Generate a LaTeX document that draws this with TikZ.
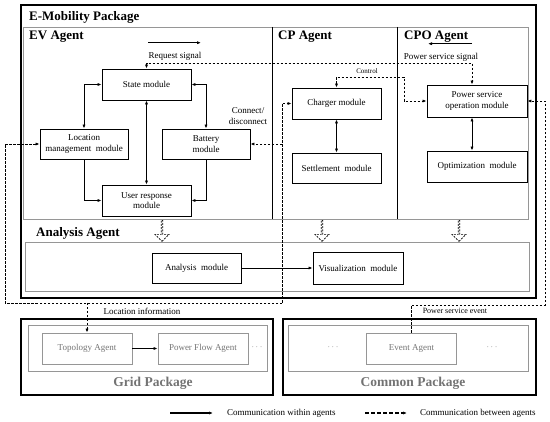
\documentclass[tikz,border=0pt]{standalone}
\usepackage{fontspec}
\setmainfont{Liberation Serif}
\usepackage{xcolor}
\usetikzlibrary{arrows.meta, positioning, shapes.arrows}
\definecolor{framegray}{RGB}{150,150,150}
\definecolor{textgray}{RGB}{115,115,115}

\begin{document}
\begin{tikzpicture}[x=1pt, y=-1pt,
    module/.style={draw, line width=0.9pt, minimum width=#1, minimum height=31pt,
                   align=center, inner sep=1pt, font=\fontsize{9}{10.5}\selectfont},
    module/.default=89pt,
    gridmod/.style={module=90pt, draw=framegray, text=textgray},
    title/.style={anchor=west, inner sep=0pt, font=\fontsize{13}{15}\selectfont\bfseries},
    pkgtitle/.style={inner sep=0pt, text=textgray, font=\fontsize{13.5}{15}\selectfont\bfseries},
    lbl/.style={inner sep=0pt, align=center, font=\fontsize{9}{10.5}\selectfont},
    tip/.style={-{Latex[length=4pt,width=3.2pt]}},
    link/.style={line width=0.8pt, {Latex[length=4pt,width=3.2pt]}-{Latex[length=4pt,width=3.2pt]}},
    msg/.style={line width=0.8pt, tip},
    dmsg/.style={line width=0.8pt, dash pattern=on 2.5pt off 1.5pt, tip},
    dlink/.style={link, dash pattern=on 2.5pt off 1.5pt},
    hollow/.style={single arrow, draw, line width=0.7pt, dash pattern=on 2pt off 1.2pt,
                   shape border rotate=270, minimum height=21pt, minimum width=14pt,
                   single arrow head extend=3pt, inner sep=0pt}
]
    \useasboundingbox (0,0) rectangle (550,422);

    % frames
    \draw[line width=1.4pt] (21,5) rectangle (536,298);
    \draw[framegray, line width=0.8pt] (23,27) rectangle (528,219);
    \draw[line width=0.9pt] (272,27) -- (272,219);
    \draw[line width=0.9pt] (397,27) -- (397,219);
    \draw[framegray, line width=0.8pt] (25,242) rectangle (529,291);
    \draw[line width=1.4pt] (21,319) rectangle (273,395);
    \draw[framegray, line width=0.8pt] (28,325) rectangle (267,371);
    \draw[line width=1.4pt] (283,319) rectangle (536,395);
    \draw[framegray, line width=0.8pt] (288,325) rectangle (528,371);

    \node[title] (emob) at (29,17) {E-Mobility Package};
    \node[title] (evag) at (29,37) {EV Agent};
    \node[title] (cpag) at (278,37) {CP Agent};
    \node[title] (cpoag) at (404,37) {CPO Agent};
    \node[title] (anag) at (36,233) {Analysis Agent};

    % EV agent
    \node[module] (state) at (146.5,84.5) {State module};
    \node[module=88pt, minimum height=30pt] (loc) at (84,144) {Location\\management\ \ module};
    \node[module=88pt, minimum height=30pt] (batt) at (206,144) {Battery\\module};
    \node[module] (user) at (146.5,200.5) {User response\\module};

    % CP and CPO agents
    \node[module] (charger) at (336.5,103.5) {Charger module};
    \node[module, minimum height=30pt] (settle) at (336.5,168) {Settlement\ \ module};
    \node[module=100pt, minimum height=32pt] (pso) at (477,101) {Power service\\operation module};
    \node[module=100pt] (optim) at (477,166.5) {Optimization\ \ module};

    % analysis agent
    \node[module, minimum height=30pt] (analysis) at (196.5,268) {Analysis\ \ module};
    \node[module=90pt, minimum height=32pt] (visual) at (358,268) {Visualization\ \ module};

    % packages
    \node[gridmod] (topo) at (87,348.5) {Topology Agent};
    \node[gridmod] (flow) at (203,348.5) {Power Flow Agent};
    \node[lbl, text=textgray] (griddots) at (257,347) {$\cdots$};
    \node[pkgtitle] (gridpkg) at (153,383) {Grid Package};
    \node[gridmod=89pt] (event) at (411.5,348.5) {Event Agent};
    \node[lbl, text=textgray] (comdotsA) at (333,347) {$\cdots$};
    \node[lbl, text=textgray] (comdotsB) at (492,347) {$\cdots$};
    \node[pkgtitle] (compkg) at (413,383) {Common Package};

    % labels
    \node[lbl] (reqlbl) at (175,56) {Request signal};
    \node[lbl] (pwrlbl) at (441,57) {Power service signal};
    \node[lbl, font=\fontsize{7}{8}\selectfont] (ctrllbl) at (367,71) {Control};
    \node[lbl] (connlbl) at (248,116) {Connect/\\disconnect};
    \node[lbl] (locinfo) at (142,311) {Location information};
    \node[lbl, font=\fontsize{8}{9}\selectfont] (pwrevent) at (455,311) {Power service event};

    \draw[msg] ([shift={(-27pt,9pt)}]reqlbl.north) -- ([shift={(26pt,9pt)}]reqlbl.north);
    \draw[msg] ([shift={(31pt,9pt)}]pwrlbl.north) -- ([shift={(-13pt,9pt)}]pwrlbl.north);

    % communication within agents
    \draw[link] (loc.north) |- (state.west);
    \draw[link] (batt.north) |- (state.east);
    \draw[link] (state.south) -- (user.north);
    \draw[msg] (loc.south) |- (user.west);
    \draw[msg] (batt.south) |- (user.east);
    \draw[link] (charger.south) -- (settle.north);
    \draw[link] ([xshift=-5pt]pso.south) -- ([xshift=-5pt]optim.north);
    \draw[msg] (analysis.east) -- (visual.west);
    \draw[msg] (topo.east) -- (flow.west);

    % communication between agents
    \coordinate (reqbend) at (472,63);
    \coordinate (ctrlbend) at (404,77);
    \coordinate (evbus) at (282,303);
    \coordinate (evleft) at (5,303);
    \coordinate (cporight) at (545,305);

    \draw[dlink] (state.north) |- (reqbend) -- ([xshift=-5pt]pso.north);
    \draw[dlink] (charger.north) |- (ctrlbend) |- (pso.west);
    \draw[dmsg] (evbus |- batt.east) -- (batt.east);
    \draw[dmsg] (evbus) |- (charger.west);
    \draw[dmsg] (evbus) -- (evleft) |- (loc.west);
    \draw[dmsg] (topo.north |- evbus) -- (topo.north);
    \draw[dmsg] (event.north) |- (cporight) |- (pso.east);

    % agents to analysis
    \node[hollow] (evdown) at (162,230.5) {};
    \node[hollow] (cpdown) at (322,230.5) {};
    \node[hollow] (cpodown) at (459,230.5) {};

    % legend
    \node[lbl, anchor=west] (legwithin) at (227,413) {Communication within agents};
    \node[lbl, anchor=west] (legbetween) at (420,413) {Communication between agents};
    \draw[line width=1.1pt, tip] ([xshift=-57pt]legwithin.west) -- ([xshift=-14pt]legwithin.west);
    \draw[line width=1.1pt, dash pattern=on 4pt off 2pt, tip] ([xshift=-55pt]legbetween.west) -- ([xshift=-13pt]legbetween.west);
\end{tikzpicture}
\end{document}
